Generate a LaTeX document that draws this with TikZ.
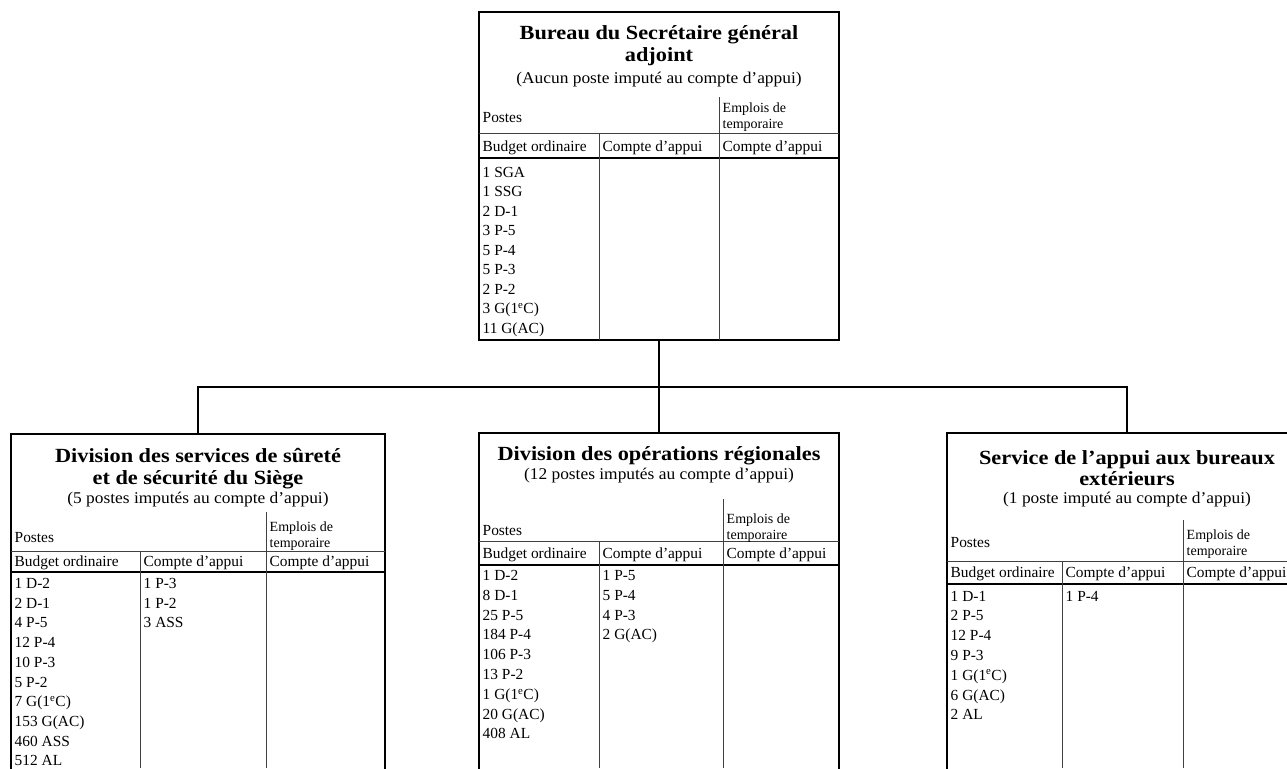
\documentclass[tikz,border=0pt]{standalone}
\usepackage{fontspec}
\setmainfont{Liberation Serif}
\newfontfamily\ttlfont[Ligatures=TeX,FakeStretch=1.11]{Liberation Serif}
\newfontfamily\subfont[Ligatures=TeX,FakeStretch=1.06]{Liberation Serif}
\begin{document}
\begin{tikzpicture}[x=1pt,y=-1pt,
  box/.style={draw, line width=1.5pt, inner sep=0pt, fill=white},
  conn/.style={line width=1.5pt, black},
  thin/.style={line width=0.9pt, black!75},
  heavy/.style={line width=1.5pt, black},
  ttl/.style={anchor=base, inner sep=0pt, font=\ttlfont\fontsize{20.1}{21}\selectfont\bfseries},
  sub/.style={anchor=base, inner sep=0pt, font=\subfont\fontsize{16.4}{17}\selectfont},
  cell/.style={anchor=base west, inner sep=0pt, font=\fontsize{15.4}{17}\selectfont},
  small/.style={anchor=base west, inner sep=0pt, font=\fontsize{14}{16}\selectfont}]
\useasboundingbox (0,0) rectangle (1287,768);
\clip (0,0) rectangle (1287,768);
\fill[white] (0,0) rectangle (1287,768);

% ---------- boxes ----------
\node[box, minimum width=360pt, minimum height=328pt] (top) at (659,176) {};
\node[box, minimum width=374pt, minimum height=366pt] (L) at (198,617) {};
\node[box, minimum width=360pt, minimum height=367pt] (M) at (659,616.5) {};
\node[box, minimum width=360pt, minimum height=367pt] (R) at (1127,616.5) {};

% ---------- connectors ----------
\coordinate (bus) at (659,387);
\draw[conn] (top.south) -- (bus);
\draw[conn] (L.north) -- (L.north |- bus) -- (R.north |- bus) -- (R.north);
\draw[conn] (M.north) -- (bus);

% ---------- top box ----------
\node[ttl] (tT1) at (659,40) {Bureau du Secrétaire général};
\node[ttl] (tT2) at (659,62) {adjoint};
\node[sub] (tS) at (659,84) {(Aucun poste imputé au compte d'appui)};
\draw[thin] (479,133) -- (839,133);
\draw[heavy] (479,158) -- (839,158);
\draw[thin] (599,133) -- (599,340);
\draw[thin] (719,97) -- (719,340);
\node[cell] (tP) at (482.5,122) {Postes};
\node[small] (tE1) at (722.5,112.5) {Emplois de};
\node[small] (tE2) at (722.5,128.5) {temporaire};
\node[cell] (tB1) at (482.5,151) {Budget ordinaire};
\node[cell] (tB2) at (602.5,151) {Compte d'appui};
\node[cell] (tB3) at (722.5,151) {Compte d'appui};
\foreach \t [count=\i] in {1 SGA,1 SSG,2 D-1,3 P-5,5 P-4,5 P-3,2 P-2,{3 G(1\textsuperscript{e}C)},11 G(AC)}
  \node[cell] (ta\i) at (482.5,{177.5+19.45*(\i-1)}) {\t};

% ---------- left box ----------
\node[ttl] (lT1) at (198,462) {Division des services de sûreté};
\node[ttl] (lT2) at (198,484.5) {et de sécurité du Siège};
\node[sub] (lS) at (198,503.5) {(5 postes imputés au compte d'appui)};
\draw[thin] (11,551) -- (385,551);
\draw[heavy] (11,572) -- (385,572);
\draw[thin] (140,551) -- (140,768);
\draw[thin] (266,512) -- (266,768);
\node[cell] (lP) at (14.5,542) {Postes};
\node[small] (lE1) at (269.5,531) {Emplois de};
\node[small] (lE2) at (269.5,547) {temporaire};
\node[cell] (lB1) at (14.5,566.5) {Budget ordinaire};
\node[cell] (lB2) at (143.5,566.5) {Compte d'appui};
\node[cell] (lB3) at (269.5,566.5) {Compte d'appui};
\foreach \t [count=\i] in {1 D-2,2 D-1,4 P-5,12 P-4,10 P-3,5 P-2,{7 G(1\textsuperscript{e}C)},153 G(AC),460 ASS,512 AL}
  \node[cell] (la\i) at (14.5,{588.5+19.7*(\i-1)}) {\t};
\foreach \t [count=\i] in {1 P-3,1 P-2,3 ASS}
  \node[cell] (lb\i) at (143.5,{588.5+19.7*(\i-1)}) {\t};

% ---------- middle box ----------
\node[ttl] (mT1) at (659,460) {Division des opérations régionales};
\node[sub] (mS) at (659,479.5) {(12 postes imputés au compte d'appui)};
\draw[thin] (479,541) -- (839,541);
\draw[heavy] (479,565) -- (839,565);
\draw[thin] (599,541) -- (599,768);
\draw[thin] (723,499) -- (723,768);
\node[cell] (mP) at (482.5,535) {Postes};
\node[small] (mE1) at (726.5,523) {Emplois de};
\node[small] (mE2) at (726.5,539.5) {temporaire};
\node[cell] (mB1) at (482.5,558) {Budget ordinaire};
\node[cell] (mB2) at (602.5,558) {Compte d'appui};
\node[cell] (mB3) at (726.5,558) {Compte d'appui};
\foreach \t [count=\i] in {1 D-2,8 D-1,25 P-5,184 P-4,106 P-3,13 P-2,{1 G(1\textsuperscript{e}C)},20 G(AC),408 AL}
  \node[cell] (ma\i) at (482.5,{580.5+19.8*(\i-1)}) {\t};
\foreach \t [count=\i] in {1 P-5,5 P-4,4 P-3,2 G(AC)}
  \node[cell] (mb\i) at (602.5,{580.5+19.8*(\i-1)}) {\t};

% ---------- right box ----------
\node[ttl] (rT1) at (1127,464) {Service de l'appui aux bureaux};
\node[ttl] (rT2) at (1127,485) {extérieurs};
\node[sub] (rS) at (1127,503.5) {(1 poste imputé au compte d'appui)};
\draw[thin] (947,561) -- (1307,561);
\draw[heavy] (947,584) -- (1307,584);
\draw[thin] (1062,561) -- (1062,768);
\draw[thin] (1183,520) -- (1183,768);
\node[cell] (rP) at (950.5,547) {Postes};
\node[small] (rE1) at (1186.5,539.5) {Emplois de};
\node[small] (rE2) at (1186.5,555.5) {temporaire};
\node[cell] (rB1) at (950.5,577.5) {Budget ordinaire};
\node[cell] (rB2) at (1065.5,577.5) {Compte d'appui};
\node[cell] (rB3) at (1186.5,577.5) {Compte d'appui};
\foreach \t [count=\i] in {1 D-1,2 P-5,12 P-4,9 P-3,{1 G(1\textsuperscript{e}C)},6 G(AC),2 AL}
  \node[cell] (ra\i) at (950.5,{601+19.8*(\i-1)}) {\t};
\node[cell] (rb1) at (1065.5,601) {1 P-4};
\end{tikzpicture}
\end{document}
